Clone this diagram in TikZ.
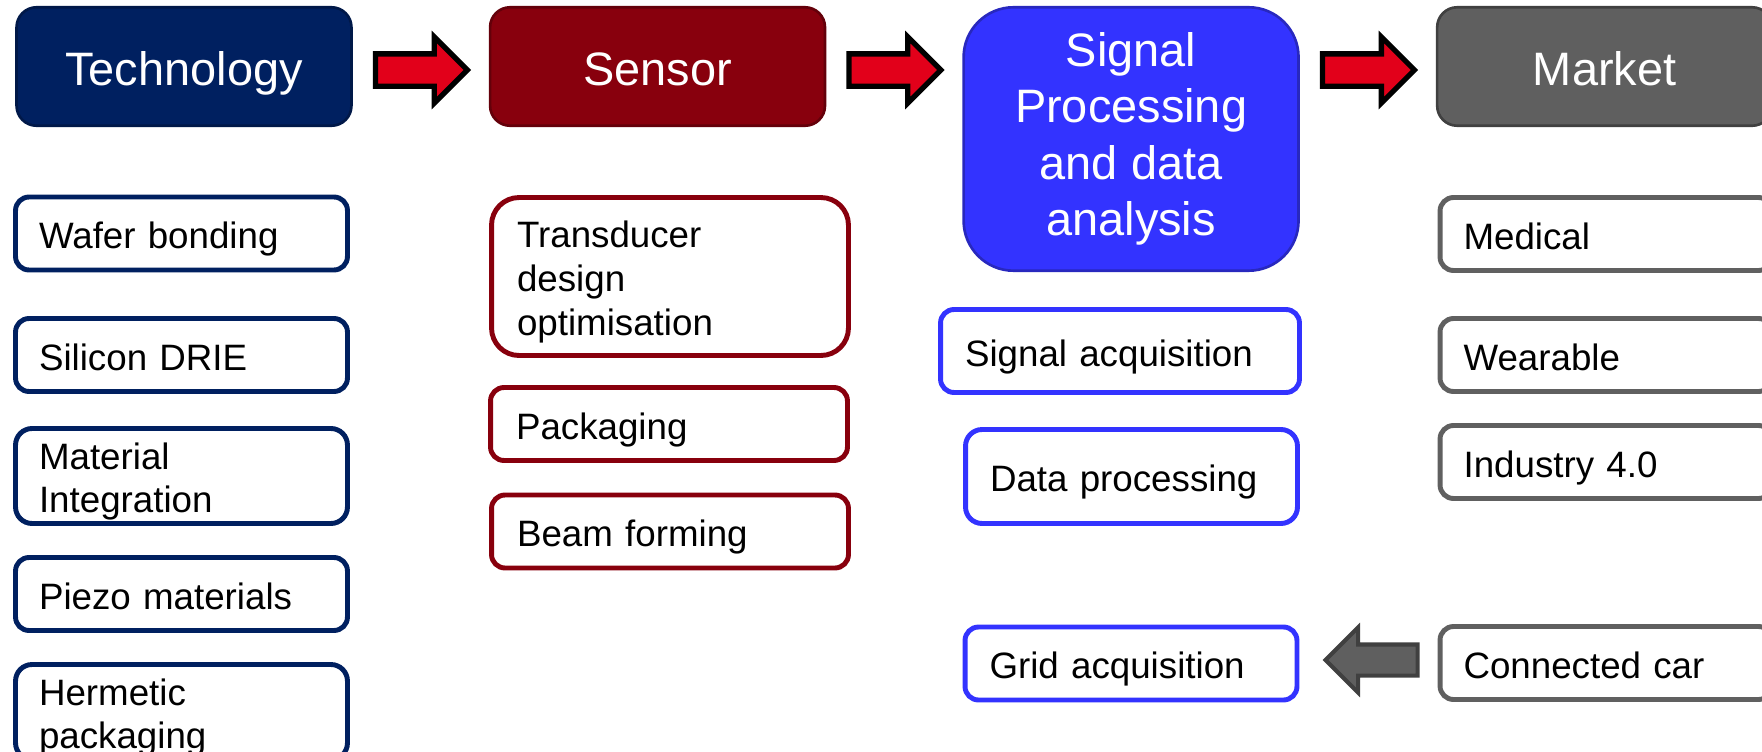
\documentclass[tikz,border=0pt]{standalone}
\usepackage{fontspec}
\setmainfont{Liberation Sans}
\usetikzlibrary{positioning,calc,shapes.arrows}
\definecolor{TechNavy}{RGB}{0,32,96}
\definecolor{TechEdge}{RGB}{0,24,72}
\definecolor{SensorRed}{RGB}{136,0,13}
\definecolor{SensorEdge}{RGB}{100,0,10}
\definecolor{SignalBlue}{RGB}{51,51,255}
\definecolor{SignalEdge}{RGB}{40,40,190}
\definecolor{MarketGrey}{RGB}{95,95,95}
\definecolor{MarketEdge}{RGB}{64,64,64}
\definecolor{MarketLine}{RGB}{96,96,96}
\definecolor{ArrowRed}{RGB}{226,0,26}
\newcommand{\ppstrut}{\rule[-0.212em]{0pt}{1.242em}}
\newcommand{\ppdepth}{\rule[-0.212em]{0pt}{0.212em}}
\tikzset{
  header/.style={rounded corners=0.4cm, line width=1.5pt, text=white,
    minimum width=6.7cm, minimum height=2.37cm, align=center, inner ysep=0pt,
    font=\fontsize{26.7}{32}\selectfont,
    execute at begin node=\ppstrut, execute at end node=\ppdepth},
  techhead/.style={header, draw=TechEdge, fill=TechNavy},
  sensorhead/.style={header, draw=SensorEdge, fill=SensorRed},
  signalhead/.style={header, draw=SignalEdge, fill=SignalBlue,
    minimum height=5.27cm, rounded corners=1cm},
  markethead/.style={header, draw=MarketEdge, fill=MarketGrey},
  topic/.style={fill=white, rounded corners=0.27cm, line width=2.8pt,
    align=left, minimum height=1.46cm, inner ysep=0pt,
    font=\fontsize{20.9}{25}\selectfont,
    execute at begin node=\ppstrut, execute at end node=\ppdepth},
  techtopic/.style={topic, draw=TechNavy, text width=5.7cm, inner xsep=0.47cm},
  sensortopic/.style={topic, draw=SensorRed, text width=6.12cm, inner xsep=0.51cm},
  signaltopic/.style={topic, draw=SignalBlue, text width=5.66cm, inner xsep=0.49cm},
  markettopic/.style={topic, draw=MarketLine, text width=5.7cm, inner xsep=0.47cm},
  blockarrow/.style={single arrow, single arrow head extend=0.34cm,
    minimum height=1.84cm, minimum width=1.22cm, inner xsep=0pt,
    inner ysep=0.27cm, line width=3pt, draw=black, fill=ArrowRed, anchor=tail},
  backarrow/.style={blockarrow, shape border rotate=180, line width=2.3pt,
    draw=MarketEdge, fill=MarketGrey}
}
\begin{document}
\begin{tikzpicture}[x=0.02cm, y=-0.02cm, node distance=2.72cm]
  \useasboundingbox (0,0) rectangle (1762,751);
  \clip (0,0) rectangle (1762,751);
  \node[techhead] (tech) at (184,66.5) {Technology};
  \node[sensorhead, right=of tech] (sensor) {Sensor};
  \node[signalhead, right=of sensor.north east, anchor=north west] (signal) {Signal\\Processing\\and data\\analysis};
  \node[markethead, right=of signal.north east, anchor=north west] (market) {Market};
  \node[blockarrow] (techtosensor) at ($(tech.east)+(20,3.5)$) {};
  \node[blockarrow] (sensortosignal) at ($(sensor.east)+(20,3.5)$) {};
  \node[blockarrow] (signaltomarket) at ($(signal.east |- market.west)+(20,3.5)$) {};
  \node[techtopic] (wafer) at (181.5,233.5) {Wafer bonding};
  \node[techtopic] (drie) at (181.5,355) {Silicon DRIE};
  \node[techtopic, minimum height=1.9cm, rounded corners=0.33cm] (integration) at (181.5,476) {Material\\Integration};
  \node[techtopic] (piezo) at (181.5,594) {Piezo materials};
  \node[techtopic, minimum height=1.9cm, rounded corners=0.33cm] (hermetic) at (181.5,712) {Hermetic\\packaging};
  \node[sensortopic, minimum height=3.16cm, rounded corners=0.55cm] (transducer) at (670,276.5) {Transducer\\design\\optimisation};
  \node[sensortopic] (packaging) at (669,424) {Packaging};
  \node[sensortopic] (beam) at (670,531.5) {Beam forming};
  \node[signaltopic, text width=6.2cm, minimum height=1.66cm] (acquisition) at (1120,351) {Signal acquisition};
  \node[signaltopic, minimum height=1.88cm, rounded corners=0.33cm] (processing) at (1131.5,476.5) {Data processing};
  \node[signaltopic] (grid) at (1131,663.5) {Grid acquisition};
  \node[markettopic] (medical) at (1606,234) {Medical};
  \node[markettopic] (wearable) at (1606,355) {Wearable};
  \node[markettopic] (industry) at (1606,462) {Industry 4.0};
  \node[markettopic] (car) at (1606,663) {Connected car};
  \node[backarrow] (cartogrid) at ($(car.west)+(-18,-3)$) {};
\end{tikzpicture}
\end{document}
